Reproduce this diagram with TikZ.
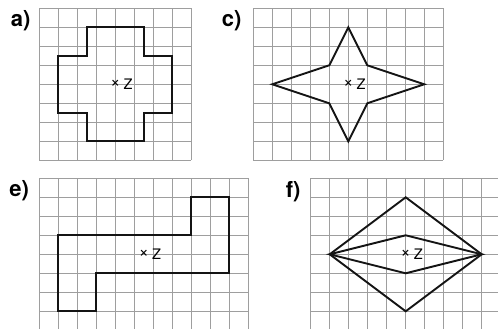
\documentclass[tikz,border=0pt]{standalone}
\usepackage{fontspec}
\setmainfont{TeX Gyre Heros}
\usetikzlibrary{positioning}

\begin{document}
\begin{tikzpicture}[
        x=1pt, y=-1pt,
        panel/.style={
            x=19pt,
            y=-19pt
        },
        gridline/.style={
            draw=black!38,
            line width=0.75pt
        },
        outline/.style={
            draw=black!92,
            line width=1.9pt,
            line join=miter
        },
        panellabel/.style={
            inner sep=0pt,
            anchor=base east,
            font=\bfseries\fontsize{22}{22}\selectfont
        },
        crossmark/.style={
            inner sep=0pt,
            font=\fontsize{17}{17}\selectfont
        },
        zlabel/.style={
            inner sep=0pt,
            font=\fontsize{14.5}{14.5}\selectfont
        }
    ]

    \clip (0,0) rectangle (498,329);

    % a)
    \begin{scope}[xshift=39.3pt, yshift=-8.3pt, panel]
        \foreach \i in {0,...,8} \draw[gridline] (\i,0) -- (\i,8);
        \foreach \j in {0,...,8} \draw[gridline] (0,\j) -- (8,\j);
        \draw[outline] (2.5,1) -- (5.5,1) -- (5.5,2.5) -- (7,2.5) -- (7,5.5)
            -- (5.5,5.5) -- (5.5,7) -- (2.5,7) -- (2.5,5.5) -- (1,5.5)
            -- (1,2.5) -- (2.5,2.5) -- cycle;
        \node[panellabel] (labela) at (-0.45,0.96) {a)};
        \node[crossmark] (za) at (4,4) {×};
        \node[zlabel, right=8pt of za.center] (zlabela) {Z};
    \end{scope}

    % c)
    \begin{scope}[xshift=253.3pt, yshift=-8.3pt, panel]
        \foreach \i in {0,...,10} \draw[gridline] (\i,0) -- (\i,8);
        \foreach \j in {0,...,8} \draw[gridline] (0,\j) -- (10,\j);
        \draw[outline] (5,1) -- (6,3) -- (9,4) -- (6,5) -- (5,7) -- (4,5)
            -- (1,4) -- (4,3) -- cycle;
        \node[panellabel] (labelc) at (-0.61,0.97) {c)};
        \node[crossmark] (zc) at (5,4) {×};
        \node[zlabel, right=8pt of zc.center] (zlabelc) {Z};
    \end{scope}

    % e)
    \begin{scope}[xshift=39.3pt, yshift=-178.3pt, panel]
        \foreach \i in {0,...,11} \draw[gridline] (\i,0) -- (\i,8);
        \foreach \j in {0,...,7} \draw[gridline] (0,\j) -- (11,\j);
        \draw[outline] (1,7) -- (1,3) -- (8,3) -- (8,1) -- (10,1) -- (10,5)
            -- (3,5) -- (3,7) -- cycle;
        \node[panellabel] (labele) at (-0.53,0.97) {e)};
        \node[crossmark] (ze) at (5.5,4) {×};
        \node[zlabel, right=8pt of ze.center] (zlabele) {Z};
    \end{scope}

    % f)
    \begin{scope}[xshift=310.7pt, yshift=-178.3pt, panel]
        \foreach \i in {0,...,10} \draw[gridline] (\i,0) -- (\i,8);
        \foreach \j in {0,...,7} \draw[gridline] (0,\j) -- (10,\j);
        \draw[outline] (1,4) -- (5,1) -- (9,4) -- (5,7) -- cycle;
        \draw[outline] (1,4) -- (5,3) -- (9,4) -- (5,5) -- cycle;
        \node[panellabel] (labelf) at (-0.53,1.0) {f)};
        \node[crossmark] (zf) at (5,4) {×};
        \node[zlabel, right=8pt of zf.center] (zlabelf) {Z};
    \end{scope}

\end{tikzpicture}
\end{document}
